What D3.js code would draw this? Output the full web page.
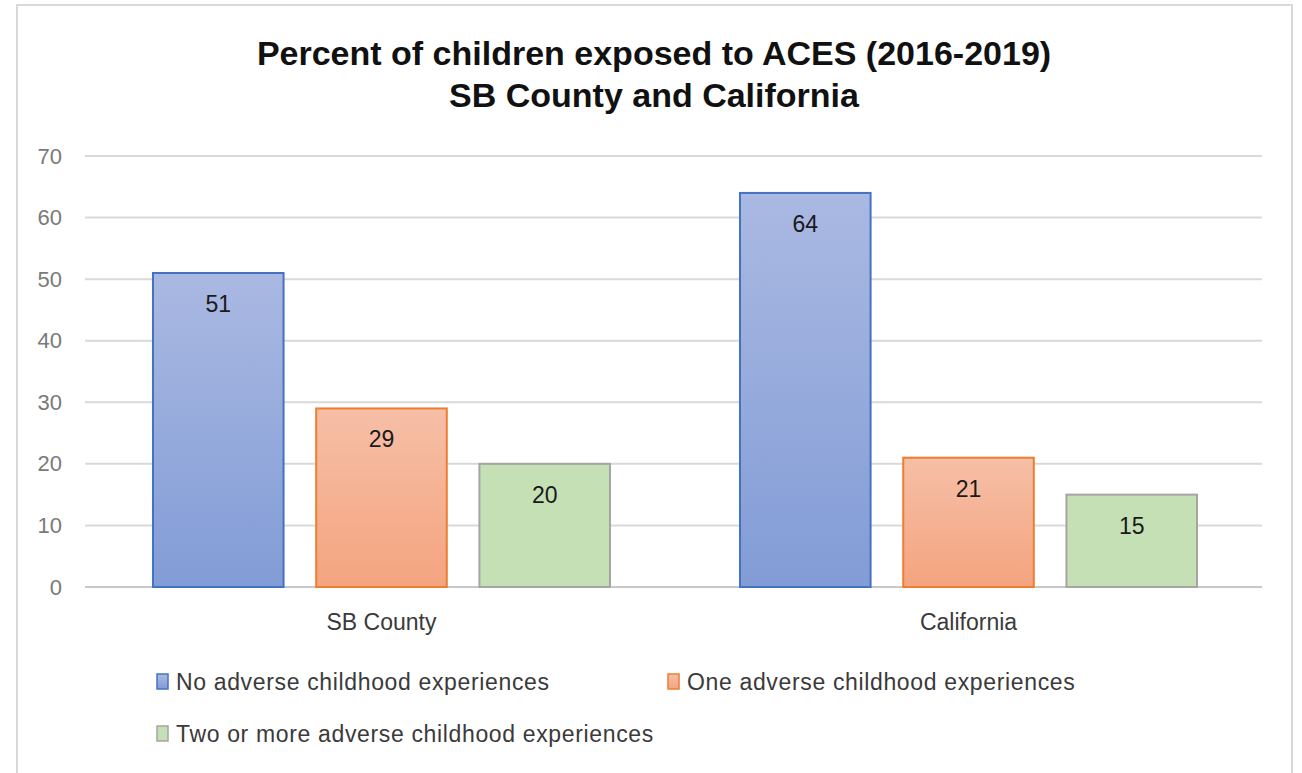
<!DOCTYPE html>
<html>

<head>
    <meta charset="UTF-8" />
    <script src="https://d3js.org/d3.v7.min.js"></script>
    <style>
        body { margin: 0; background: #fff; }
        text { font-family: "Liberation Sans", Arial, sans-serif; }
    </style>
</head>

<body>
    <script>
        // chart data
        const categories = ["SB County", "California"];
        const seriesNames = [
            "No adverse childhood experiences",
            "One adverse childhood experiences",
            "Two or more adverse childhood experiences"
        ];
        const noAces = [51, 64];
        const oneAce = [29, 21];
        const twoPlusAces = [20, 15];
        const yTicks = [0, 10, 20, 30, 40, 50, 60, 70];
        const titleLines = ["Percent of children exposed to ACES (2016-2019)", "SB County and California"];

        const width = 1302;
        const height = 773;
        const margin = { top: 156, right: 40, bottom: 186, left: 85 };

        const colors = [
            { top: "#aab9e2", bottom: "#829cd6", stroke: "#4472c4" },
            { top: "#f6bfa7", bottom: "#f4a47f", stroke: "#ed7d31" },
            { top: "#c5e0b4", bottom: "#c5e0b4", stroke: "#a5a5a5" }
        ];

        const values = [noAces, oneAce, twoPlusAces];
        const data = categories.map(function (c, i) {
            return {
                category: c,
                bars: seriesNames.map(function (s, j) {
                    return { series: s, idx: j, value: values[j][i] };
                })
            };
        });

        const svg = d3.select("body")
            .append("svg")
            .attr("width", width)
            .attr("height", height);

        // outer frame
        svg.append("rect")
            .attr("x", 17)
            .attr("y", 5)
            .attr("width", 1275)
            .attr("height", 780)
            .attr("fill", "#fff")
            .attr("stroke", "#d9d9d9")
            .attr("stroke-width", 2);

        const defs = svg.append("defs");
        colors.forEach(function (c, i) {
            const g = defs.append("linearGradient")
                .attr("id", "grad" + i)
                .attr("x1", 0).attr("y1", 0)
                .attr("x2", 0).attr("y2", 1);
            g.append("stop").attr("offset", "0%").attr("stop-color", c.top);
            g.append("stop").attr("offset", "100%").attr("stop-color", c.bottom);
        });

        const x0 = d3.scaleBand()
            .domain(categories)
            .range([margin.left + 3, width - margin.right])
            .paddingInner(0.2215)
            .paddingOuter(0.1107);

        const x1 = d3.scaleBand()
            .domain(seriesNames)
            .range([0, x0.bandwidth()])
            .paddingInner(0.2);

        const y = d3.scaleLinear()
            .domain([0, 70])
            .range([height - margin.bottom, margin.top]);

        // gridlines
        svg.append("g")
            .selectAll("line")
            .data(yTicks)
            .join("line")
            .attr("x1", margin.left)
            .attr("x2", width - margin.right)
            .attr("y1", d => y(d))
            .attr("y2", d => y(d))
            .attr("stroke", d => d === 0 ? "#c8c8c8" : "#d9d9d9")
            .attr("stroke-width", 2);

        // y axis labels
        const yAxis = svg.append("g")
            .attr("transform", `translate(${margin.left},0)`)
            .call(d3.axisLeft(y).tickValues(yTicks).tickSize(0).tickPadding(23));
        yAxis.select(".domain").remove();
        yAxis.selectAll("text")
            .attr("font-family", "Liberation Sans, Arial, sans-serif")
            .attr("font-size", 22)
            .attr("fill", "#7a7a7a");

        // bars
        const groups = svg.append("g")
            .selectAll("g")
            .data(data)
            .join("g")
            .attr("transform", d => `translate(${x0(d.category)},0)`);

        groups.selectAll("rect")
            .data(d => d.bars)
            .join("rect")
            .attr("x", d => x1(d.series))
            .attr("y", d => y(d.value))
            .attr("width", x1.bandwidth())
            .attr("height", d => y(0) - y(d.value))
            .attr("fill", d => `url(#grad${d.idx})`)
            .attr("stroke", d => colors[d.idx].stroke)
            .attr("stroke-width", 2);

        groups.selectAll(".label")
            .data(d => d.bars)
            .join("text")
            .attr("class", "label")
            .attr("x", d => x1(d.series) + x1.bandwidth() / 2)
            .attr("y", d => y(d.value) + 39)
            .attr("text-anchor", "middle")
            .attr("font-size", 23)
            .attr("fill", "#1a1a1a")
            .text(d => d.value);

        // category labels
        svg.append("g")
            .selectAll("text")
            .data(categories)
            .join("text")
            .attr("x", d => x0(d) + x0.bandwidth() / 2)
            .attr("y", 630)
            .attr("text-anchor", "middle")
            .attr("font-size", 23)
            .attr("fill", "#3a3a3a")
            .text(d => d);

        // title
        svg.append("g")
            .selectAll("text")
            .data(titleLines)
            .join("text")
            .attr("x", 654)
            .attr("y", (d, i) => 65 + i * 42)
            .attr("text-anchor", "middle")
            .attr("font-size", 34)
            .attr("font-weight", "bold")
            .attr("fill", "#111")
            .text(d => d);

        // legend
        const legendPos = [
            { x: 157, y: 682 },
            { x: 668, y: 682 },
            { x: 157, y: 734 }
        ];
        const legend = svg.append("g")
            .selectAll("g")
            .data(seriesNames)
            .join("g")
            .attr("transform", (d, i) => `translate(${legendPos[i].x},${legendPos[i].y})`);

        legend.append("rect")
            .attr("x", 0)
            .attr("y", -8)
            .attr("width", 11)
            .attr("height", 15)
            .attr("fill", (d, i) => `url(#grad${i})`)
            .attr("stroke", (d, i) => colors[i].stroke)
            .attr("stroke-width", 1.5);

        legend.append("text")
            .attr("x", 19)
            .attr("y", 8)
            .attr("font-size", 23)
            .attr("letter-spacing", 0.65)
            .attr("fill", "#3a3a3a")
            .text(d => d);
    </script>
</body>

</html>
